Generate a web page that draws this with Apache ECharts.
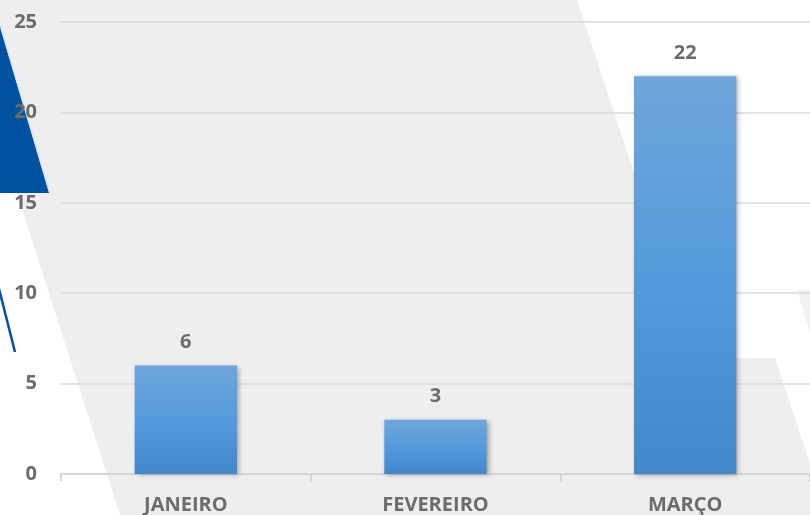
<!DOCTYPE html>
<html>
<head>
    <meta charset="UTF-8">
    <title>Chart</title>
    <script src="https://cdn.jsdelivr.net/npm/echarts@6/dist/echarts.min.js"></script>
    <style>
        html, body { margin: 0; padding: 0; background: #fff; }
        #main { width: 810px; height: 515px; }
    </style>
</head>
<body>
<div id="main"></div>
<script type="text/javascript">
    // dados do gráfico
    var meses = ['JANEIRO', 'FEVEREIRO', 'MARÇO'];
    var valores = [6, 3, 22];
    var eixoY = { min: 0, max: 25, interval: 5 };

    var cinza = '#6f6b6b';
    var fundo = '#eeeef0';

    var myChart = echarts.init(document.getElementById('main'));
    var option = {
        backgroundColor: '#ffffff',
        animation: false,
        textStyle: { fontFamily: '"Open Sans", sans-serif' },
        // formas decorativas do fundo
        graphic: [
            {
                type: 'polygon', z: -10, silent: true,
                shape: { points: [[-45, 0], [577, 0], [747, 515], [120, 515]] },
                style: { fill: fundo }
            },
            {
                type: 'polygon', z: -10, silent: true,
                shape: { points: [[600, 358], [775, 358], [827, 515], [600, 515]] },
                style: { fill: fundo }
            },
            {
                type: 'polygon', z: -10, silent: true,
                shape: { points: [[797, 290], [812, 290], [880, 515], [865, 515]] },
                style: { fill: '#f2f2f4' }
            },
            {
                type: 'polygon', z: -9, silent: true,
                shape: { points: [[0, 26], [49, 193], [0, 193]] },
                style: { fill: '#00529f' }
            },
            {
                type: 'line', z: -9, silent: true,
                shape: { x1: 1, y1: 28, x2: 50, y2: 193 },
                style: { stroke: '#d6e6f5', lineWidth: 1.5 }
            },
            {
                type: 'line', z: -9, silent: true,
                shape: { x1: -2, y1: 285, x2: 15, y2: 352 },
                style: { stroke: '#0b4f96', lineWidth: 2.5 }
            }
        ],
        grid: {
            left: 61,
            right: -6,
            top: 22,
            bottom: 40
        },
        xAxis: {
            type: 'category',
            data: meses,
            axisLine: { lineStyle: { color: '#d4d4d4', width: 2 } },
            axisTick: { show: true, length: 7, lineStyle: { color: '#d4d4d4', width: 2 } },
            axisLabel: {
                color: cinza,
                fontSize: 20,
                fontWeight: 'bold',
                margin: 21
            }
        },
        yAxis: {
            type: 'value',
            min: eixoY.min,
            max: eixoY.max,
            interval: eixoY.interval,
            axisLine: { show: false },
            axisTick: { show: false },
            splitLine: { lineStyle: { color: '#d9d9d9', width: 1.5 } },
            axisLabel: {
                color: cinza,
                fontSize: 20,
                fontWeight: 'bold',
                margin: 24
            }
        },
        series: [
            {
                type: 'bar',
                data: valores,
                barWidth: '41%',
                itemStyle: {
                    color: new echarts.graphic.LinearGradient(0, 0, 0, 1, [
                        { offset: 0, color: '#6fa5da' },
                        { offset: 0.5, color: '#559bdb' },
                        { offset: 1, color: '#4387c8' }
                    ]),
                    shadowColor: 'rgba(0, 0, 0, 0.35)',
                    shadowBlur: 5,
                    shadowOffsetX: 2,
                    shadowOffsetY: 1
                },
                label: {
                    show: true,
                    position: 'top',
                    distance: 13,
                    color: cinza,
                    fontSize: 20,
                    fontWeight: 'bold'
                }
            }
        ]
    };
    myChart.setOption(option);
</script>
</body>
</html>
